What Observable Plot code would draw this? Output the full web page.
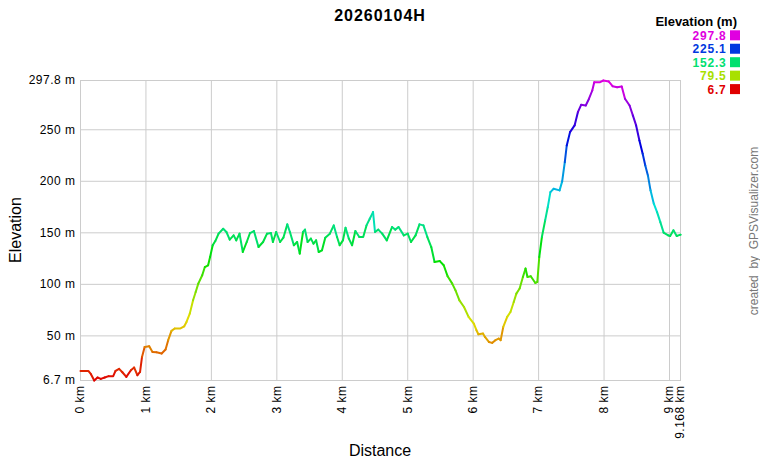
<!DOCTYPE html>
<html><head><meta charset="utf-8">
<script src="https://cdn.jsdelivr.net/npm/d3@7"></script>
<script src="https://cdn.jsdelivr.net/npm/@observablehq/plot@0.6"></script>
<style>
html,body{margin:0;padding:0;background:#fff;}
#chart{position:relative;width:760px;height:460px;}
g[aria-label$="tick label"] text{letter-spacing:0.5px;}
</style></head><body><div id="chart"></div>
<script>
const titleText = "20260104H";
const xLabel = "Distance";
const yLabel = "Elevation";
const legendTitle = "Elevation (m)";
const creditText = "created  by  GPSVisualizer.com";

const distKm = [0,0.12,0.16,0.21,0.26,0.31,0.37,0.43,0.50,0.535,
0.59,0.64,0.70,0.77,0.82,0.87,0.91,0.94,0.98,1.05,
1.10,1.16,1.24,1.30,1.34,1.39,1.44,1.52,1.585,1.62,
1.67,1.72,1.76,1.80,1.86,1.90,1.95,1.98,2.02,2.06,
2.11,2.18,2.23,2.28,2.34,2.38,2.43,2.48,2.54,2.59,
2.65,2.72,2.79,2.85,2.91,2.94,2.99,3.05,3.10,3.16,
3.20,3.26,3.31,3.35,3.40,3.43,3.47,3.52,3.56,3.60,
3.64,3.69,3.74,3.81,3.87,3.92,3.96,4.01,4.05,4.10,
4.15,4.20,4.26,4.32,4.37,4.42,4.47,4.50,4.55,4.61,
4.68,4.76,4.81,4.86,4.94,5.00,5.05,5.12,5.18,5.24,
5.30,5.36,5.41,5.49,5.55,5.61,5.68,5.73,5.79,5.86,
5.93,6.01,6.05,6.08,6.15,6.18,6.24,6.29,6.34,6.39,
6.42,6.46,6.52,6.57,6.62,6.66,6.71,6.76,6.80,6.83,
6.88,6.95,6.98,7.01,7.05,7.10,7.14,7.18,7.23,7.32,
7.36,7.40,7.43,7.48,7.55,7.60,7.65,7.72,7.77,7.82,
7.85,7.94,7.99,8.07,8.13,8.20,8.27,8.32,8.39,8.44,
8.49,8.54,8.59,8.63,8.67,8.71,8.76,8.81,8.86,8.91,
8.98,9.01,9.06,9.11,9.168];

const elevM = [16,16,12.8,6.7,9.6,8.3,9.6,10.9,10.9,16,
18,14.7,10.2,16.7,19.3,11.8,15,29.6,39.3,40,
34.4,34.1,32.9,36.7,45.8,54.8,57.1,57.1,59.3,63.5,
71.6,84.5,92.6,100.7,108.8,116.8,118.5,126.5,137.9,142,
149.2,154,150.8,143.4,147.5,142.7,149.2,131.4,141.1,149.8,
151.7,136.2,141.1,149.2,149.8,141.1,150.8,141.1,145.3,158.2,
150.8,137.9,141.1,129.8,150.8,153.1,141.1,144.4,139.5,142.7,
131.4,133,145.3,149.2,157.2,145.9,137.9,142.7,155,144.4,
137.9,151.7,145.9,145.9,157.2,163.7,170.1,150.8,153.1,149.2,
142.7,155.6,153.1,155.6,147.5,149.2,141.1,147.5,158.2,157.2,
145.9,136.2,121.7,122.6,118.5,107.8,100.7,94.2,84.5,78,
68.4,61.9,55.5,51.6,52.3,49,44.1,43.2,45.8,47.4,
45.8,58.7,68.4,73.2,82.9,91,95.9,107.1,115.3,107.1,
107.8,101.3,102.3,126.5,145.9,162.1,175,189.5,192.8,191.2,
199.9,218.6,234.8,247.7,254.2,267.1,274.2,273.6,280.1,288.1,
296.2,296.2,297.8,296.9,292.3,291.3,292,280.1,273.6,263.9,
254.2,239.6,226.7,215.4,205.7,191.2,178.3,170.1,160.4,150.2,
147.5,146.9,152.4,146.9,148.2];

const yTicks = [6.7,50,100,150,200,250,297.8];
const yGrid = [50,100,150,200,250];
const xTicks = [0,1,2,3,4,5,6,7,8,9,9.168];
const xGrid = [0,1,2,3,4,5,6,7,8,9];
const legendValues = [297.8,225.1,152.3,79.5,6.7];

const eMin = 6.7, eMax = 297.8, dMax = 9.168;
const hueColor = t => d3.hsl(t * 300, 1, 0.44).formatHex();
const colorOf = v => hueColor((v - eMin) / (eMax - eMin));

const data = distKm.map((d, i) => ({km: d, ele: elevM[i]}));
const font = '"Liberation Sans", Arial, sans-serif';

const svg = Plot.plot({
  width: 760, height: 460,
  marginLeft: 80, marginRight: 80, marginTop: 80, marginBottom: 80,
  style: {fontFamily: font, fontSize: "12px", color: "#000", background: "#fff", overflow: "visible"},
  x: {domain: [0, dMax]},
  y: {domain: [eMin, eMax]},
  color: {type: "linear", domain: [eMin, eMax], interpolate: hueColor},
  marks: [
    Plot.gridY(yGrid, {stroke: "#cccccc", strokeOpacity: 1}),
    Plot.gridX(xGrid, {stroke: "#cccccc", strokeOpacity: 1}),
    Plot.frame({stroke: "#cccccc"}),
    Plot.axisY(yTicks, {tickSize: 0, tickPadding: 5, tickFormat: d => d + " m", label: null, fill: "#000"}),
    Plot.axisX(xTicks, {tickSize: 0, tickPadding: 5, tickRotate: -90, tickFormat: d => d + " km", label: null, fill: "#000"}),
    Plot.line(data, {x: "km", y: "ele", z: null, stroke: "ele", strokeWidth: 2})
  ]
});
document.getElementById("chart").appendChild(svg);

const s = d3.select(svg);
s.append("text").attr("x", 380).attr("y", 21).attr("text-anchor", "middle")
  .attr("font-family", font).attr("font-weight", "bold").attr("font-size", 16)
  .attr("letter-spacing", "1px").attr("fill", "#000").text(titleText);

s.append("text").attr("x", 380).attr("y", 456).attr("text-anchor", "middle")
  .attr("font-family", font).attr("font-size", 16).attr("fill", "#000").text(xLabel);

s.append("text").attr("transform", "translate(20.5,230) rotate(-90)").attr("text-anchor", "middle")
  .attr("font-family", font).attr("font-size", 16).attr("fill", "#000").text(yLabel);

s.append("text").attr("transform", "translate(758,231) rotate(-90)").attr("text-anchor", "middle")
  .attr("font-family", font).attr("font-size", 12).attr("fill", "#777").attr("xml:space", "preserve")
  .style("white-space", "pre").text(creditText);

s.append("text").attr("x", 737).attr("y", 26).attr("text-anchor", "end")
  .attr("font-family", font).attr("font-weight", "bold").attr("font-size", 13).attr("fill", "#000").text(legendTitle);

legendValues.forEach((v, i) => {
  const cy = 35.3 + i * 13.45;
  s.append("text").attr("x", 726.5).attr("y", cy + 4.4).attr("text-anchor", "end")
    .attr("font-family", font).attr("font-weight", "bold").attr("font-size", 12)
    .attr("letter-spacing", "0.8px").attr("fill", colorOf(v)).text(v.toFixed(1));
  s.append("rect").attr("x", 730).attr("y", cy - 5).attr("width", 10).attr("height", 10).attr("fill", colorOf(v));
});
</script></body></html>
